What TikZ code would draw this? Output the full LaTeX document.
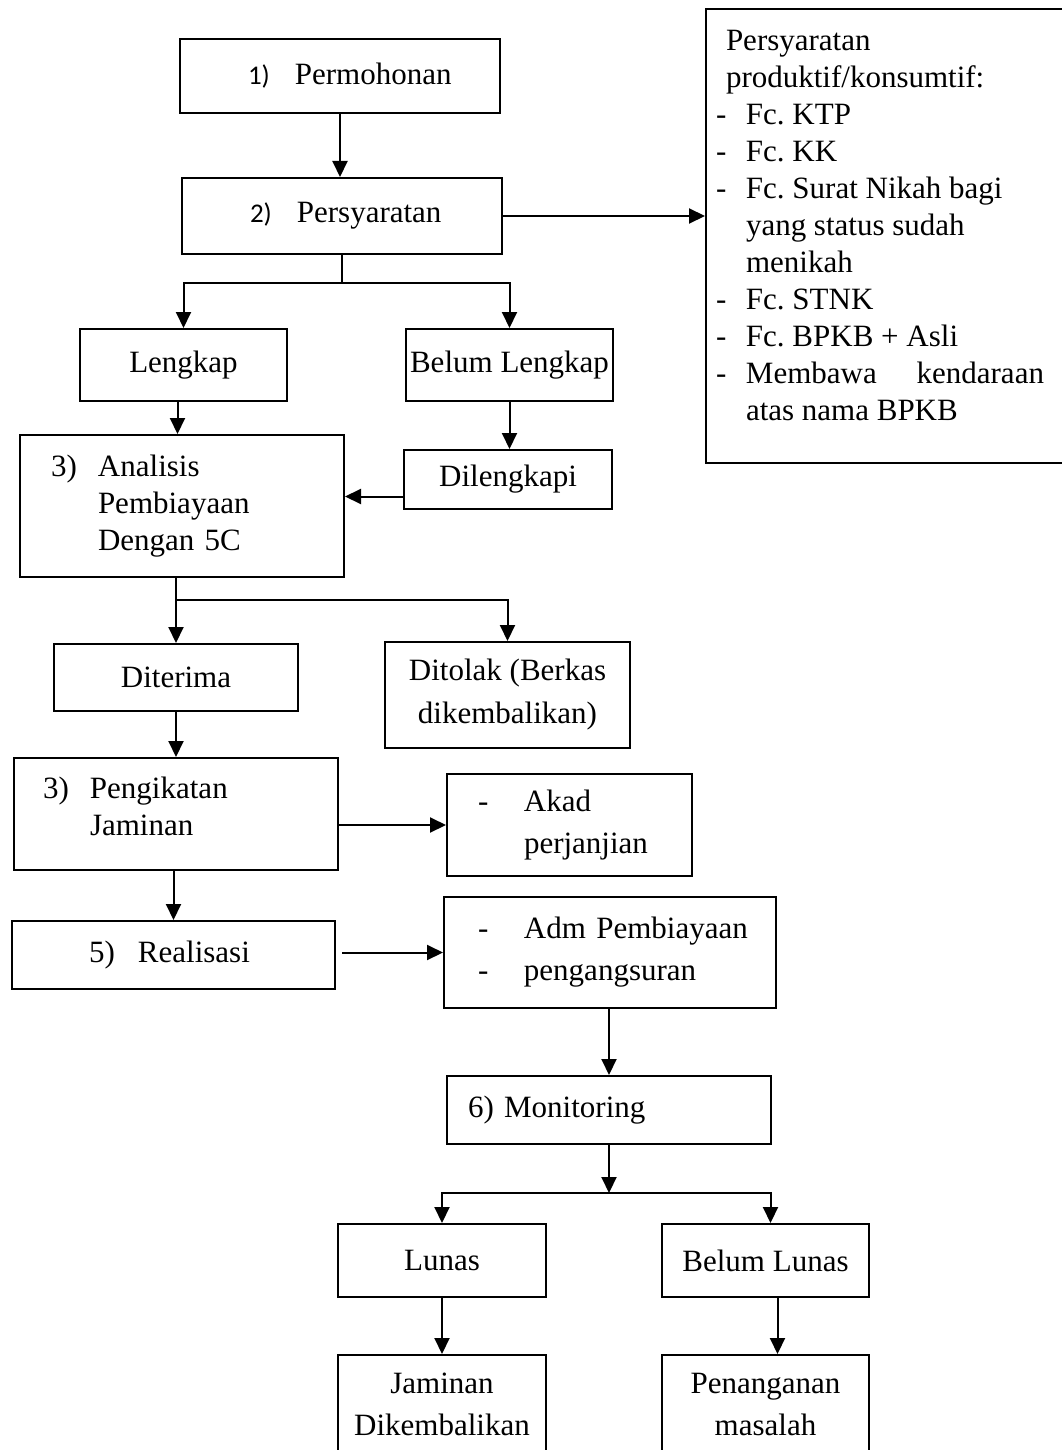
\documentclass[tikz,border=0pt]{standalone}
\usepackage{fontspec}
\setmainfont{Liberation Serif}
\newfontfamily\NUMFONT{Carlito}
\usepackage{tikz}
\usetikzlibrary{arrows.meta,positioning,calc}
\frenchspacing
\tikzstyle{BOX} = [rectangle, draw, line width=2pt, inner sep=0pt, anchor=north west, font=\fontsize{31}{37}\selectfont]
\tikzstyle{BOX_C} = [BOX, align=center]
\tikzstyle{BOX_L} = [BOX, align=left]
\tikzstyle{LINE} = [draw, line width=2pt, -{Triangle[length=16pt,width=15pt]}]
\tikzstyle{PLAIN} = [draw, line width=2pt]
\newcommand{\ITEM}[1]{\makebox[30pt][l]{-}#1}
\newcommand{\INDENT}{\hspace*{30pt}}
\newcommand{\NUM}[1]{{\NUMFONT\fontsize{27}{37}\selectfont #1}}

\begin{document}
\begin{tikzpicture}[x=1pt, y=-1pt]
\useasboundingbox (0,0) rectangle (1062,1450);
% Place node
\node [BOX_L, minimum width=320pt, minimum height=74pt, inner xsep=68pt, text width=184pt] (PERMOHONAN) at (179,38) {\mbox{\NUM{1)}\hspace{25pt}Permohonan}};
\node [BOX_L, minimum width=320pt, minimum height=76pt, inner xsep=68pt, text width=184pt] (PERSYARATAN) at (181,177) {\mbox{\NUM{2)}\hspace{25pt}Persyaratan}};
\node [BOX, inner xsep=10pt, inner ysep=21pt] (SYARAT) at (705,8) {\parbox[t][412pt][t]{350pt}{%
\hspace*{10pt}Persyaratan\\
\hspace*{10pt}produktif/konsumtif:\\
\ITEM{Fc. KTP}\\
\ITEM{Fc. KK}\\
\ITEM{Fc. Surat Nikah bagi}\\
\INDENT yang status sudah\\
\INDENT menikah\\
\ITEM{Fc. STNK}\\
\ITEM{Fc. BPKB + Asli}\\
\ITEM{\makebox[298pt][s]{Membawa kendaraan}}\\
\INDENT atas nama BPKB}};
\node [BOX_C, minimum width=207pt, minimum height=72pt] (LENGKAP) at (79,328) {Lengkap};
\node [BOX_C, minimum width=207pt, minimum height=72pt] (BELUMLENGKAP) at (405,328) {Belum Lengkap};
\node [BOX_L, minimum width=324pt, minimum height=142pt, inner xsep=31pt, text width=262pt] (ANALISIS) at (19,434) {\makebox[47pt][l]{3)}Analisis\\ \hspace*{47pt}Pembiayaan\\ \hspace*{47pt}Dengan 5C};
\node [BOX_C, minimum width=208pt, minimum height=59pt] (DILENGKAPI) at (403,449) {Dilengkapi};
\node [BOX_C, minimum width=244pt, minimum height=67pt] (DITERIMA) at (53,643) {Diterima};
\node [BOX_C, minimum width=245pt, minimum height=106pt] (DITOLAK) at (384,641) {Ditolak (Berkas\\[6pt]dikembalikan)};
%
\node [BOX_L, minimum width=324pt, minimum height=112pt, inner xsep=29pt, text width=266pt] (PENGIKATAN) at (13,757) {\makebox[47pt][l]{3)}Pengikatan\\ \hspace*{47pt}Jaminan\rule[-16pt]{0pt}{16pt}};
\node [BOX_L, minimum width=245pt, minimum height=102pt, inner xsep=31pt, text width=183pt] (AKAD) at (446,773) {\makebox[46pt][l]{-}Akad\\[5pt] \hspace*{46pt}perjanjian};
\node [BOX_L, minimum width=323pt, minimum height=68pt, inner xsep=77pt, text width=169pt] (REALISASI) at (11,920) {\mbox{\makebox[49pt][l]{5)}Realisasi}};
\node [BOX_L, minimum width=332pt, minimum height=111pt, inner xsep=34pt, text width=264pt] (ADM) at (443,896) {\mbox{\makebox[46pt][l]{-}Adm Pembiayaan}\\[5pt] \makebox[46pt][l]{-}pengangsuran};
\node [BOX_L, minimum width=324pt, minimum height=68pt, inner xsep=21pt, text width=282pt] (MONITORING) at (446,1075) {6) Monitoring};
\node [BOX_C, minimum width=208pt, minimum height=73pt] (LUNAS) at (337,1223) {Lunas};
\node [BOX_C, minimum width=207pt, minimum height=73pt] (BELUMLUNAS) at (661,1223) {Belum Lunas};
\node [BOX_C, minimum width=208pt, inner ysep=18pt] (JAMINAN) at (337,1354) {Jaminan\\[5pt]Dikembalikan\rule[-20pt]{0pt}{20pt}};
\node [BOX_C, minimum width=207pt, inner ysep=18pt] (PENANGANAN) at (661,1354) {Penanganan\\[5pt]masalah\rule[-20pt]{0pt}{20pt}};
% LINES and ARROWS
\path [LINE] (PERMOHONAN.south) -- (PERMOHONAN.south |- PERSYARATAN.north);
\path [LINE] (PERSYARATAN.east) -- (PERSYARATAN.east -| SYARAT.west);
\coordinate (SPLIT_1) at (PERSYARATAN.south |- 0,283);
\path [PLAIN] (PERSYARATAN.south) -- (SPLIT_1);
\path [LINE] (SPLIT_1) -| (LENGKAP.north);
\path [LINE] (SPLIT_1) -| (BELUMLENGKAP.north);
\coordinate (L_OUT) at ([xshift=-6pt]LENGKAP.south);
\path [LINE] (L_OUT) -- (L_OUT |- ANALISIS.north);
\path [LINE] (BELUMLENGKAP.south) -- (BELUMLENGKAP.south |- DILENGKAPI.north);
\coordinate (D_OUT) at ([yshift=-17pt]DILENGKAPI.west);
\path [LINE] (D_OUT) -- (D_OUT -| ANALISIS.east);
%
\coordinate (SPLIT_2) at (DITERIMA.north |- 0,600);
\path [PLAIN] (SPLIT_2 |- ANALISIS.south) -- (SPLIT_2);
\path [LINE] (SPLIT_2) -- (DITERIMA.north);
\path [LINE] (SPLIT_2) -| (DITOLAK.north);
\path [LINE] (DITERIMA.south) -- (DITERIMA.south |- PENGIKATAN.north);
\path [LINE] (AKAD.west -| PENGIKATAN.east) -- (AKAD.west);
\path [LINE] (REALISASI.north |- PENGIKATAN.south) -- (REALISASI.north);
\path [LINE, shorten <=6pt] (ADM.west -| REALISASI.east) -- (ADM.west);
\path [LINE] (MONITORING.north |- ADM.south) -- (MONITORING.north);
%
\coordinate (SPLIT_3) at (MONITORING.south |- 0,1193);
\path [LINE] (MONITORING.south) -- (SPLIT_3);
\path [LINE] (SPLIT_3) -| (LUNAS.north);
\coordinate (BL_IN) at ([xshift=5pt]BELUMLUNAS.north);
\path [LINE] (SPLIT_3) -| (BL_IN);
\path [LINE] (LUNAS.south) -- (LUNAS.south |- JAMINAN.north);
\coordinate (BL_OUT) at ([xshift=12pt]BELUMLUNAS.south);
\path [LINE] (BL_OUT) -- (BL_OUT |- PENANGANAN.north);
\end{tikzpicture}
\end{document}
